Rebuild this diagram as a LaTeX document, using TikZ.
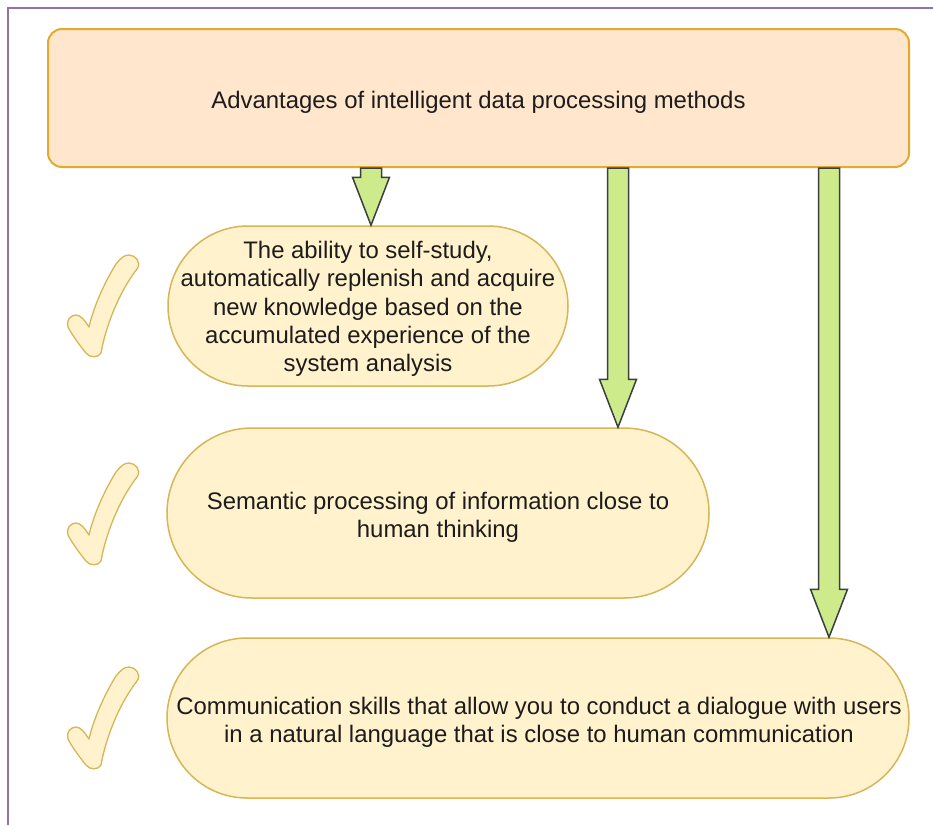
\documentclass[tikz,border=0pt]{standalone}
\usepackage{fontspec}
\setmainfont{Liberation Sans}
\usetikzlibrary{calc}
\definecolor{frameC}{HTML}{9673A6}
\definecolor{topFill}{HTML}{FFE6CC}
\definecolor{topDraw}{HTML}{E2AA2E}
\definecolor{boxFill}{HTML}{FFF2CC}
\definecolor{boxDraw}{HTML}{D6B656}
\definecolor{arrFill}{HTML}{CDEB8B}
\definecolor{arrDraw}{HTML}{3C3F42}
\definecolor{txt}{HTML}{1C1C1C}
\tikzset{
  headbox/.style={draw=topDraw, fill=topFill, line width=2pt, rounded corners=14pt,
    minimum width=861pt, minimum height=138pt, inner sep=0pt},
  pill/.style={draw=boxDraw, fill=boxFill, line width=1.5pt, inner sep=0pt},
  lbl/.style={text=txt, inner sep=0pt, font=\fontsize{23.9}{28.3}\selectfont, align=center},
  barrow/.style={draw=arrDraw, fill=arrFill, line width=1.5pt, line join=miter},
  checkmk/.style={draw=boxDraw, fill=boxFill, line width=1.3pt, line join=round}
}
\newcommand{\blockarr}[2]{%
  \draw[barrow] let \p1=(#1), \p2=(#2) in
    (\x1-10.5,\y1) -- (\x1-10.5,\y2+48) -- (\x1-18.5,\y2+48) -- (\x1,\y2)
    -- (\x1+18.5,\y2+48) -- (\x1+10.5,\y2+48) -- (\x1+10.5,\y1) -- cycle;}
\newcommand{\checkat}[2]{%
  \begin{scope}[shift={(#1,#2)}]
  \draw[checkmk] (22,-72) .. controls (18,-66) and (14,-60) .. (9,-60)
    .. controls (3,-60) and (-1,-66) .. (1,-72)
    .. controls (5,-80) and (14,-92) .. (19,-98)
    .. controls (22,-103) and (32,-103) .. (34,-98)
    .. controls (38,-75) and (50,-40) .. (70,-14)
    .. controls (75,-7) and (68,0) .. (62,0)
    .. controls (57,0) and (54,-3) .. (49,-9)
    .. controls (39,-25) and (27,-50) .. cycle;
  \end{scope}}
\begin{document}
\begin{tikzpicture}[x=1pt,y=1pt]
\useasboundingbox (0,0) rectangle (933,-825);
\fill[white] (0,0) rectangle (933,-825);
% frame
\draw[frameC, line width=2pt] (8,-825) -- (8,-8) -- (933,-8);
% shapes
\node[headbox] (top) at (478.5,-98) {};
\node[pill, minimum width=400pt, minimum height=160pt, rounded corners=80pt] (b1) at (368,-306) {};
\node[pill, minimum width=542pt, minimum height=170pt, rounded corners=85pt] (b2) at (438,-513) {};
\node[pill, minimum width=742pt, minimum height=160pt, rounded corners=80pt] (b3) at (538,-718) {};
% texts
\node[lbl] (t0) at ([yshift=-4pt]top.center) {Advantages of intelligent data processing methods};
\node[lbl] (t1) at ([yshift=-3pt]b1.center)
  {The ability to self-study,\\ automatically replenish and acquire\\ new knowledge based on the\\ accumulated experience of the\\ system analysis};
\node[lbl] (t2) at ([yshift=-4pt]b2.center)
  {Semantic processing of information close to\\ human thinking};
\node[lbl] (t3) at ([xshift=1pt,yshift=-4pt]b3.center)
  {Communication skills that allow you to conduct a dialogue with users\\ in a natural language that is close to human communication};
% arrows
\coordinate (a1s) at (top.south -| 371,0);
\coordinate (a2s) at (top.south -| 618,0);
\coordinate (a3s) at (top.south -| 829,0);
\coordinate (a1e) at (a1s |- b1.north);
\coordinate (a2e) at (a2s |- b2.north);
\coordinate (a3e) at (a3s |- b3.north);
\blockarr{a1s}{a1e}
\blockarr{a2s}{a2e}
\blockarr{a3s}{a3e}
% checks
\checkat{67}{-255}
\checkat{67}{-463}
\checkat{67}{-667}
\end{tikzpicture}
\end{document}
